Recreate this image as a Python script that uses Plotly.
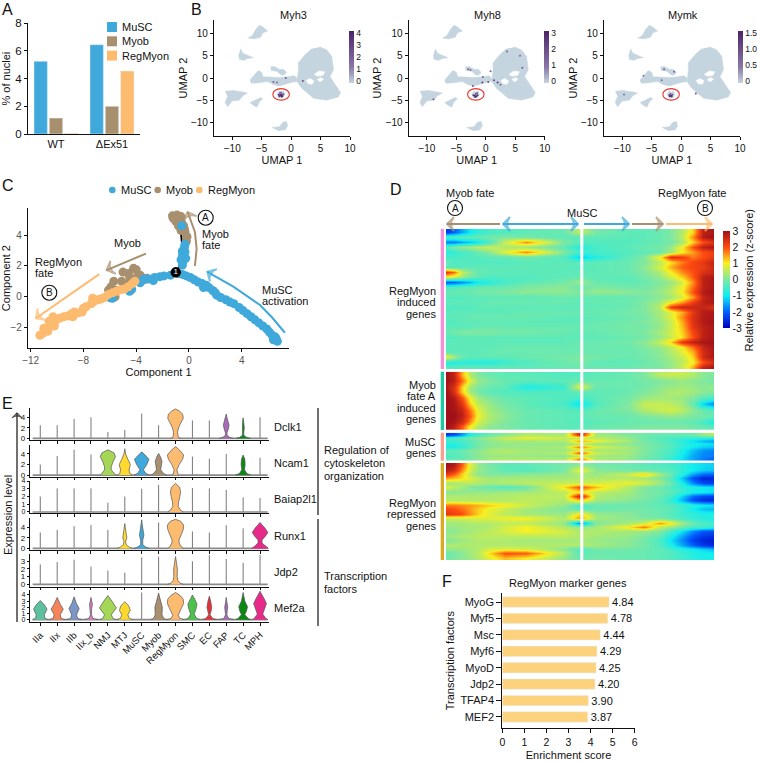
import plotly.graph_objects as go

W, H = 757, 762
FONT = "Liberation Sans"

MUSC_COLOR = "#3fa9db"
MYOB_COLOR = "#a88f6e"
REG_COLOR = "#fdbb6f"

# panel A
nuclei_groups = ["WT", "ΔEx51"]
nuclei_musc = [5.25, 6.45]
nuclei_myob = [1.15, 2.0]
nuclei_regmyon = [0.05, 4.55]

# panel B, cluster outlines in UMAP units
umap_big_x = [4.9, 6.0, 6.9, 7.2, 6.6, 7.5, 8.4, 8.0, 6.0, 3.8, 1.8, 1.0, 1.25, 1.2, 2.4, 3.5]
umap_big_y = [7.0, 6.4, 4.9, 1.9, 0.3, -1.5, -3.3, -4.3, -5.0, -4.6, -2.3, -0.8, 1.9, 3.4, 5.3, 6.6]
umap_mid_x = [-7, -6, -5.6, -5, -4.8, -3.5, -2, -0.5, 0.5, 1, 1.0, 0, -2, -3, -4, -5.5, -6.8]
umap_mid_y = [-0.5, 1, 1.7, 1.3, 0.3, 0.2, 0.1, 0.3, 0.5, 0, -0.8, -1.0, -1.8, -1.5, -0.8, -1.1, -1.2]
umap_up_x = [-3.5, -2.8, -2, -1.2, -0.8, -1.3, -1.8, -2.4, -3.4]
umap_up_y = [2.5, 2.6, 2, 1.9, 1.2, 0.6, 0.8, 1.5, 1.7]
umap_left_x = [-11.2, -9.8, -8, -7.4, -8.2, -8.8, -10, -10.8, -11.2, -10.8]
umap_left_y = [-3, -2.8, -3.2, -3.4, -4, -5, -5.2, -6.5, -5.5, -4.2]
umap_streak_x = [-7, -6, -5.2, -4.8, -5.4, -5.8, -6.4]
umap_streak_y = [-5.6, -4.9, -4.4, -4.7, -5.4, -6.6, -6.2]
umap_bottom_x = [-3.3, -2, -1.4, -0.8, -0.6, -1, -2.2]
umap_bottom_y = [-11.2, -11, -10, -9.8, -10.8, -11.7, -11.9]
umap_top_x = [-7.4, -6.6, -6, -5.4, -4.8, -4, -4.8, -5.2, -6.4]
umap_top_y = [9, 9.6, 11, 11.9, 11.5, 10.6, 10.2, 9.2, 8.8]
umap_small_x = [-8.6, -8.2, -7.2, -6.4, -7.4, -8, -8.8, -8.9]
umap_small_y = [6.6, 5.6, 5, 4.6, 4.4, 4, 4.2, 5.2]
umap_circled_x = [-2.4, -2, -1.7, -1.3, -1.1, -1.4, -2.2]
umap_circled_y = [-3.7, -2.9, -3.2, -2.9, -3.8, -4.4, -4.4]
umap_hole1_x = [2.5, 3.2, 3.9, 3.6, 2.9]
umap_hole1_y = [-0.6, -0.1, -0.7, -1.4, -1.3]
umap_hole2_x = [3.9, 4.8, 5.7, 5.4, 4.4]
umap_hole2_y = [0.8, 1.6, 1.4, 0.6, 0.4]
umap_hole3_x = [4.4, 5.0, 5.5, 4.9]
umap_hole3_y = [-0.4, 0.1, -0.3, -0.9]

myh3_x = [-2.1, -1.9, -1.8, -1.7, -1.6, -1.5, -1.4, -1.3, -2.0, -1.7, -1.6, -1.9, -3.0, -2.4, -0.9, 2.0]
myh3_y = [-3.8, -3.9, -3.6, -4.0, -3.8, -4.1, -3.8, -3.6, -4.1, -3.3, -4.2, -3.4, -0.9, -1.0, 0.0, -0.7]
myh3_val = [3.2, 3.8, 2.5, 4.0, 3.6, 3.4, 2.8, 1.8, 3.0, 2.0, 3.8, 1.5, 2.0, 1.5, 2.0, 2.5]
myh8_x = [-2.1, -1.9, -1.7, -1.6, -1.4, -1.8, -1.5, -3.0, -2.6, -2.2, -0.6, 0.8, 1.4, 2.0, 2.5, 3.6, 5.8, 6.2, -8.9, -0.5, 0.4]
myh8_y = [-3.9, -4.0, -3.6, -4.1, -3.9, -4.3, -3.4, 2.0, 1.8, -1.8, -1.0, 1.5, -0.5, -1.0, -1.5, 6.0, 5.0, 2.3, -4.8, 0.2, -0.9]
myh8_val = [2.5, 3.0, 2.0, 3.0, 2.6, 2.8, 1.6, 1.5, 1.2, 1.8, 2.2, 1.6, 2.0, 2.4, 1.2, 1.4, 1.2, 1.6, 1.5, 1.4, 1.8]
mymk_x = [-2.0, -1.9, -1.7, -1.5, -1.8, -1.6, -2.9, -1.2, -3.3, 2.5, -9.7, -6.4]
mymk_y = [-3.9, -4.1, -4.0, -3.8, -3.6, -4.2, 2.0, 1.4, -0.5, -3.5, -3.7, 0.5]
mymk_val = [1.2, 1.5, 1.4, 1.0, 0.8, 1.3, 0.8, 0.7, 0.6, 0.9, 0.6, 0.5]

# panel C
musc_x = [6.7, 6.6, 6.5, 6.3, 6.1, 5.9, 5.6, 5.3, 5.0, 4.7, 4.4, 4.1, 3.8, 3.4, 3.1, 2.8, 2.4, 2.1, 1.8, 1.5, 1.3, 1.0, 0.7,
          0.4, 0.1, -0.2, -0.5, -0.8, -1.4, -1.9, -2.2, -2.7, -3.1, -3.4, -2.6, -3.7, -4.34, -4.5, -5.8, -6.0, -5.9,
          -0.5, -0.45, -0.4, -0.48, -0.5, -0.35, -0.3, -0.45, -0.55, -0.25, -0.6, -0.3, 6.4, 2.0, 1.1]
musc_y = [-2.9, -2.7, -2.6, -2.5, -2.3, -2.1, -1.9, -1.7, -1.5, -1.3, -1.1, -0.9, -0.7, -0.45, -0.35, -0.2, -0.05, 0.1, 0.4, 0.6, 0.75, 0.85, 0.95,
          1.1, 1.25, 1.35, 1.45, 1.5, 1.4, 1.35, 1.3, 1.05, 1.15, 1.15, 1.25, 0.9, 0.48, 0.35, -0.1, -0.06, 0.05,
          2.05, 2.3, 2.6, 2.7, 2.95, 3.2, 3.4, 2.8, 4.6, 2.5, 2.4, 2.9, -2.8, 0.25, 0.6]
myob_x = [-1.2, -0.9, -0.6, -1.0, -0.7, -0.4, -0.3, -0.15, -0.2, -0.6, -0.95, -0.55, -0.35, -1.25, -0.8,
          -5.7, -5.9, -5.5, -6.1, -5.6, -5.0, -4.6, -4.2, -4.0, -3.7, -3.4, -3.2, -4.1, -4.6, -5.1, -4.5, -3.9]
myob_y = [5.1, 5.3, 5.2, 4.9, 4.9, 4.6, 4.2, 3.9, 3.6, 4.3, 5.0, 4.8, 4.4, 5.25, 4.6,
          1.0, 0.65, 0.4, 0.43, 0.0, 1.6, 1.5, 1.84, 1.75, 1.4, 1.1, 1.2, 1.1, 0.9, 1.0, 1.3, 1.3]
reg_x = [-11.3, -11.1, -10.9, -10.7, -10.5, -10.6, -10.2, -10.15, -10.4, -9.8, -9.5, -9.2, -8.9, -8.7, -8.4, -8.0, -7.8, -7.4,
         -7.2, -6.9, -6.7, -6.4, -6.1, -5.8, -5.5, -5.2, -4.9, -4.6, -4.3, -4.1, -11.0, -10.3, -8.8, -8.1, -7.3]
reg_y = [-2.5, -2.4, -2.2, -2.25, -1.85, -1.6, -1.9, -1.6, -1.5, -1.4, -1.3, -1.25, -1.1, -1.0, -1.05, -0.75, -0.65, -0.45,
         -0.3, -0.2, -0.15, -0.05, 0.15, 0.25, 0.35, 0.45, 0.5, 0.65, 0.85, 1.0, -2.05, -1.3, -1.3, -1.0, -0.1]
branch_x = [-1.0, -0.55, -0.5, -0.6]
branch_y = [1.58, 2.2, 3.2, 4.1]
node_x = [-1.0]
node_y = [1.58]
node_label = ["1"]
arrow_a_x = [0.45, 0.58, 0.45, -0.1]
arrow_a_y = [2.0, 3.1, 4.2, 5.5]
arrow_myob_x = [-3.26, -6.24]
arrow_myob_y = [2.8, 1.73]
arrow_reg_x = [-6.8, -11.6]
arrow_reg_y = [1.47, -1.4]
arrow_musc_x = [7.27, 6.3, 5.38, 3.36, 1.39]
arrow_musc_y = [-2.34, -1.35, -0.54, 0.65, 1.62]

# panel D
heat_x = [0, 3, 6, 9, 12, 16, 22, 30, 44, 49.5, 50.5, 56, 68, 74, 80, 84, 88, 92, 96, 100]
heat_regmyon_induced = [
    [-2.4, -2.0, -1.5, -1.0, -0.7, -0.5, -0.4, -0.3, -0.2, 0.5, 0.5, -0.1, -0.3, -0.3, -0.2, 0.0, 0.4, 1.2, 2.7, 2.9],
    [-0.4, -0.4, -0.3, -0.3, -0.2, -0.1, 0.0, -0.1, -0.3, -0.3, -0.3, -0.3, -0.3, -0.3, -0.2, 0.0, 0.5, 1.6, 2.8, 3.0],
    [-1.8, -1.8, -1.5, -1.3, -1.0, -0.5, 0.6, 1.6, 0.0, -0.3, -0.4, -0.4, -0.4, -0.3, -0.2, -0.1, 0.3, 1.2, 2.0, 2.4],
    [-0.3, 0.0, 0.2, 0.3, 0.5, 0.6, 0.4, 0.2, -0.3, -0.8, -0.8, -0.5, -0.3, -0.2, -0.1, 0.2, 1.0, 2.0, 2.7, 2.9],
    [-0.8, -0.7, -0.5, -0.4, -0.2, 0.1, 0.8, 1.6, 0.0, -0.5, -0.6, -0.5, -0.4, -0.3, -0.2, 0.3, 1.0, 1.5, 2.0, 2.2],
    [-0.5, -0.5, -0.4, -0.4, -0.4, -0.3, -0.3, -0.2, -0.4, -1.2, -1.3, -0.8, -0.3, 0.0, 1.0, 2.4, 2.2, 1.7, 2.0, 2.3],
    [-0.2, -0.4, -0.4, -0.4, -0.4, -0.4, -0.4, -0.3, -0.3, -0.3, -0.3, -0.3, -0.2, 0.0, 0.5, 1.1, 1.7, 2.1, 2.3, 2.7],
    [-0.4, -0.4, -0.3, -0.3, -0.3, -0.3, -0.3, -0.3, -0.3, -0.4, -0.4, -0.3, -0.2, 0.1, 0.7, 1.4, 1.9, 2.1, 2.2, 2.6],
    [2.3, 1.8, 0.6, 0.1, -0.2, -0.3, -0.3, -0.3, -0.3, -0.3, -0.3, -0.3, -0.2, 0.0, 0.4, 1.0, 1.6, 2.0, 2.4, 2.6],
    [0.9, 0.6, 0.2, -0.1, -0.3, -0.4, -0.4, -0.4, -0.3, -0.2, -0.2, -0.3, -0.3, -0.1, 0.2, 0.7, 1.2, 1.9, 2.7, 2.9],
    [-2.1, -2.0, -1.7, -1.4, -1.0, -0.8, -0.5, -0.3, -0.1, 0.2, 0.2, -0.2, -0.3, -0.2, 0.0, 0.2, 0.7, 1.6, 2.7, 2.9],
    [-0.5, -0.4, -0.3, -0.3, -0.2, -0.2, -0.2, 0.0, 0.1, -0.2, -0.2, 0.0, -0.1, -0.1, 0.1, 0.4, 0.9, 1.8, 2.7, 2.9],
    [-0.2, -0.2, -0.2, -0.2, -0.1, -0.1, 0.0, 0.1, 0.1, 0.0, 0.0, 0.2, 0.1, 0.0, 0.2, 0.5, 1.0, 2.0, 2.8, 3.0],
    [-0.4, -0.4, -0.4, -0.3, -0.3, -0.3, -0.3, -0.3, -0.2, -0.2, -0.2, -0.3, -0.2, -0.1, 0.1, 0.3, 0.7, 1.5, 2.6, 2.9],
    [-0.3, -0.3, -0.3, -0.3, -0.3, -0.2, -0.2, -0.2, -0.2, -0.3, -0.3, -0.2, -0.2, 0.0, 0.3, 0.9, 1.5, 2.2, 2.7, 2.9],
    [-0.4, -0.4, -0.4, -0.4, -0.3, -0.3, -0.3, -0.3, -0.3, -0.3, -0.3, -0.3, -0.2, 0.0, 0.5, 2.2, 2.6, 2.6, 2.6, 2.4],
    [-0.4, -0.3, -0.3, -0.3, -0.3, -0.3, -0.3, -0.2, -0.2, -0.2, -0.2, -0.2, -0.1, 0.0, 0.3, 0.8, 1.4, 2.3, 2.8, 2.9],
    [-0.3, -0.3, -0.3, -0.2, -0.2, -0.2, -0.2, -0.2, -0.3, -0.3, -0.3, -0.3, -0.2, -0.1, 0.3, 0.8, 1.6, 2.4, 2.8, 2.9],
    [-0.4, -0.4, -0.3, -0.3, -0.3, -0.3, -0.3, -0.3, -0.3, -0.3, -0.3, -0.2, -0.1, 0.0, 0.2, 0.6, 1.4, 2.4, 2.8, 3.0],
    [-0.3, -0.3, -0.3, -0.3, -0.2, -0.2, -0.2, -0.2, -0.2, -0.2, -0.2, -0.2, -0.1, -0.1, 0.2, 0.6, 1.3, 2.3, 2.7, 2.9],
    [-0.2, -0.1, 0.0, 0.0, 0.0, 0.0, -0.1, -0.1, -0.2, -0.3, -0.3, -0.2, -0.1, 0.0, 0.3, 0.7, 1.2, 2.1, 2.7, 2.9],
    [-0.4, -0.4, -0.3, -0.3, -0.3, -0.3, -0.3, -0.3, -0.3, -0.3, -0.3, -0.3, -0.2, -0.1, 0.2, 0.6, 1.1, 2.0, 2.7, 2.9],
    [-0.3, -0.3, -0.3, -0.3, -0.3, -0.3, -0.3, -0.3, -0.3, -0.2, -0.2, -0.2, -0.1, 0.1, 0.6, 1.2, 2.3, 2.7, 2.9, 3.0],
    [-0.4, -0.3, -0.3, -0.3, -0.3, -0.3, -0.2, -0.2, -0.2, -0.2, -0.2, -0.2, -0.2, 0.0, 0.2, 0.5, 1.0, 1.8, 2.6, 2.9],
    [-0.3, -0.3, -0.3, -0.3, -0.3, -0.2, -0.2, -0.2, -0.2, -0.2, -0.2, -0.2, -0.2, -0.1, 0.1, 0.4, 0.8, 1.4, 2.5, 2.9],
    [0.9, 0.3, -0.2, -0.3, -0.3, -0.3, -0.3, -0.2, -0.1, 0.0, 0.0, -0.1, -0.2, -0.1, 0.1, 0.3, 0.6, 1.2, 2.5, 2.9],
    [-0.8, -0.8, -0.8, -0.8, -0.8, -0.8, -0.6, -0.4, -0.2, -0.1, -0.1, -0.3, -0.3, -0.2, 0.0, 0.2, 0.5, 1.0, 2.0, 2.5],
    [-0.4, -0.4, -0.3, -0.3, -0.3, -0.3, -0.3, -0.3, -0.2, -0.2, -0.2, -0.2, -0.2, -0.1, 0.0, 0.2, 0.6, 1.4, 2.6, 2.9],
]
heat_myob_induced = [
    [3.0, 2.6, 1.4, 0.4, 0.0, -0.2, -0.3, -0.3, -0.4, -0.4, -0.4, -0.3, -0.2, 0.0, 0.5, 0.6, 0.6, 0.4, 0.1, 0.0],
    [3.0, 2.7, 1.8, 0.8, 0.2, 0.0, -0.2, -0.3, -0.3, -0.2, -0.2, -0.2, -0.2, -0.1, 0.0, 0.1, 0.2, 0.1, 0.0, -0.1],
    [2.9, 2.4, 1.2, 0.3, 0.0, -0.2, -0.3, -0.9, -0.6, 0.8, 0.8, -0.2, -0.2, -0.1, 0.1, 0.2, 0.3, 0.2, 0.1, 0.2],
    [3.0, 2.4, 1.2, 0.3, -0.1, -0.3, -0.4, -0.4, -0.4, -0.3, -0.3, -0.3, -0.2, 0.0, 0.2, 0.4, 0.4, 0.3, 0.1, 0.0],
    [3.0, 2.8, 2.0, 0.9, 0.3, 0.0, -0.2, -0.3, -0.4, -0.5, -0.5, -0.3, -0.1, 0.2, 0.3, 0.3, 0.2, 0.0, -0.3, -0.5],
    [3.0, 2.9, 2.3, 1.2, 0.5, 0.2, -0.1, -0.3, -0.5, -1.1, -1.1, -0.4, 0.0, 0.6, 0.6, 0.5, 0.3, -0.2, -1.2, -1.8],
    [3.0, 2.9, 2.6, 1.7, 0.8, 0.3, 0.0, -0.2, -0.3, -0.4, -0.4, -0.2, 0.0, 0.4, 0.6, 0.7, 0.5, 0.1, -0.2, -0.4],
    [3.0, 3.0, 2.7, 1.9, 0.9, 0.4, 0.1, -0.2, -0.3, -0.3, -0.3, -0.2, -0.2, 0.0, 0.1, 0.2, 0.1, 0.0, -0.1, -0.2],
    [3.0, 2.9, 2.5, 1.6, 0.7, 0.3, 0.0, -0.2, -0.3, -0.4, -0.4, -0.3, -0.2, -0.2, -0.2, -0.2, -0.2, -0.3, -0.5, -0.9],
    [3.0, 2.7, 1.9, 0.9, 0.4, 0.1, 0.0, -0.2, -0.3, -0.3, -0.3, -0.2, -0.1, 0.0, 0.0, 0.0, 0.0, -0.1, -0.2, -0.3],
]
heat_musc = [
    [-2.4, -2.2, -1.6, -0.9, -0.5, -0.2, 0.1, 0.4, 0.3, 2.5, 2.5, 0.3, 0.0, -0.1, -0.2, -0.2, -0.2, -0.1, 0.2, 0.5],
    [-0.5, -0.4, -0.3, -0.1, 0.1, 0.3, 0.6, 0.9, 0.6, 0.4, 0.4, 0.5, 0.2, -0.2, -0.4, -0.5, -0.6, -0.7, -0.7, -0.8],
    [-0.6, -0.6, -0.5, -0.3, -0.1, 0.1, 0.3, 0.3, 0.4, 1.5, 1.5, 0.9, 0.3, -0.1, -0.3, -0.5, -0.8, -1.1, -1.4, -1.6],
    [-0.8, -0.8, -0.6, -0.4, -0.1, 0.1, 0.2, 0.2, 0.1, 0.3, 0.3, 0.2, 0.1, 0.0, -0.2, -0.4, -0.7, -0.9, -1.0, -1.1],
    [-0.9, -0.9, -0.7, -0.4, -0.1, 0.1, 0.2, 0.2, 0.4, 1.8, 1.8, 0.8, 0.3, 0.0, -0.2, -0.4, -0.7, -1.0, -1.2, -1.3],
    [-0.3, -0.3, -0.2, 0.0, 0.1, 0.3, 0.4, 0.3, 0.2, 0.5, 0.5, 0.3, 0.3, 0.0, -0.3, -0.5, -0.9, -1.3, -1.6, -1.7],
    [-0.3, -0.3, -0.2, 0.0, 0.1, 0.3, 0.4, 0.3, 0.4, 2.0, 2.0, 0.6, 0.3, 0.0, -0.3, -0.5, -0.9, -1.4, -1.7, -1.8],
    [-0.5, -0.4, -0.3, -0.1, 0.1, 0.2, 0.2, 0.2, 0.1, 0.4, 0.4, 0.3, 0.2, -0.1, -0.3, -0.6, -1.0, -1.5, -1.7, -1.8],
    [-0.3, -0.2, -0.2, 0.0, 0.1, 0.3, 0.4, 0.4, 0.4, 1.7, 1.7, 0.4, 0.2, -0.1, -0.4, -0.7, -1.1, -1.5, -1.8, -2.0],
]
heat_regmyon_repressed = [
    [3.0, 2.8, 1.9, 0.8, 0.2, -0.1, -0.3, -0.3, -0.1, 0.1, 0.1, -0.1, -0.2, -0.3, -0.4, -0.5, -0.7, -1.0, -1.1, -1.2],
    [2.8, 2.5, 1.6, 0.7, 0.2, 0.0, -0.3, -0.4, -0.1, 0.9, 0.9, 0.1, -0.1, -0.2, -0.3, -0.4, -0.7, -1.0, -1.2, -1.3],
    [2.3, 1.9, 1.2, 0.5, 0.1, 0.0, 0.0, 0.1, 0.2, 0.3, 0.3, 0.2, 0.6, 1.2, 0.3, -0.2, -0.8, -1.5, -1.9, -2.0],
    [1.5, 1.3, 1.1, 0.8, 0.5, 0.3, 0.3, 0.3, 0.3, 0.4, 0.4, 0.4, 0.4, 0.3, 0.0, -0.4, -1.3, -2.2, -2.6, -2.6],
    [0.3, 0.3, 0.4, 0.5, 0.4, 0.3, 0.4, 0.5, 0.6, 0.6, 0.6, 0.7, 0.9, 0.7, 0.3, -0.2, -0.9, -1.7, -2.2, -2.3],
    [0.7, 0.5, 0.3, 0.0, -0.1, -0.2, -0.4, -0.2, 1.1, 2.0, 2.0, 1.3, 0.4, 0.0, -0.2, -0.4, -0.7, -0.9, -1.0, -1.1],
    [0.1, 0.1, 0.1, 0.2, 0.2, 0.2, 0.3, 0.3, 0.5, 1.0, 1.0, 0.5, 0.3, 0.0, -0.1, -0.3, -0.6, -0.9, -1.0, -1.1],
    [0.4, 0.4, 0.4, 0.4, 0.4, 0.4, 0.4, 0.5, 0.5, 2.6, 2.6, 0.4, 0.2, 0.0, -0.2, -0.5, -1.2, -1.9, -2.2, -2.3],
    [0.4, 0.4, 0.4, 0.4, 0.4, 0.4, 0.4, 0.5, 0.4, 1.2, 1.2, 0.3, 0.1, -0.1, -0.3, -0.7, -1.4, -2.2, -2.5, -2.6],
    [1.7, 1.7, 1.6, 1.5, 1.4, 1.2, 1.0, 0.6, 0.2, -0.5, -0.5, -0.2, -0.2, -0.2, -0.3, -0.4, -0.6, -0.8, -1.0, -1.1],
    [2.1, 2.0, 1.8, 1.5, 1.2, 0.9, 0.6, 0.3, 0.0, -0.3, -0.3, -0.2, -0.1, -0.1, -0.2, -0.3, -0.6, -1.0, -1.3, -1.4],
    [2.3, 2.2, 2.0, 1.6, 1.2, 0.8, 0.5, 0.3, 0.2, 1.1, 1.1, 0.2, 0.1, -0.1, -0.2, -0.4, -0.6, -0.7, -0.8, -0.8],
    [0.6, 0.6, 0.7, 0.7, 0.8, 0.8, 0.9, 1.0, 0.4, 1.5, 1.5, 0.3, 0.1, 0.0, -0.1, -0.3, -0.5, -0.7, -0.8, -0.9],
    [0.3, 0.3, 0.3, 0.4, 0.4, 0.4, 0.5, 0.5, 0.2, -1.7, -1.7, 0.0, 0.3, 0.6, 1.5, 1.0, 0.3, -0.2, -0.4, -0.5],
    [0.2, 0.2, 0.3, 0.3, 0.3, 0.4, 0.7, 1.0, 0.4, 0.2, 0.2, 0.3, 1.0, 1.7, 0.5, 0.2, -0.2, -0.5, -0.6, -0.7],
    [0.1, 0.1, 0.2, 0.3, 0.4, 0.5, 0.7, 1.0, 0.7, 0.4, 0.4, 0.4, 0.3, 0.2, 0.0, -0.5, -1.1, -1.7, -2.1, -2.2],
    [0.3, 0.3, 0.4, 0.4, 0.5, 0.5, 0.5, 0.5, 0.5, 0.4, 0.4, 0.3, 0.2, 0.0, -0.3, -0.9, -1.5, -2.1, -2.4, -2.5],
    [0.0, 0.1, 0.2, 0.3, 0.4, 0.4, 0.4, 0.3, 0.3, 0.3, 0.3, 0.2, 0.1, -0.1, -0.5, -1.1, -1.7, -2.3, -2.6, -2.7],
    [0.4, 0.4, 0.4, 0.4, 0.4, 0.4, 0.4, 0.4, 0.4, 0.4, 0.4, 0.3, 0.1, -0.1, -0.4, -0.9, -1.5, -2.0, -2.4, -2.6],
    [0.2, 0.2, 0.2, 0.3, 0.4, 0.7, 0.8, 0.7, 0.1, -0.4, -0.4, -0.1, -0.1, -0.2, -0.3, -0.5, -0.8, -1.0, -1.2, -1.4],
    [-0.2, -0.1, 0.1, 0.3, 0.5, 1.1, 2.0, 1.9, 0.4, -0.3, -0.3, -0.2, -0.2, -0.2, -0.3, -0.4, -0.6, -0.8, -0.9, -1.0],
    [-0.1, 0.0, 0.1, 0.2, 0.4, 0.8, 1.3, 1.0, 0.2, -0.2, -0.2, -0.1, -0.2, -0.2, -0.3, -0.4, -0.6, -0.8, -0.9, -0.9],
]
heat_ticks = [-3, -2, -1, 0, 1, 2, 3]
heat_tick_labels = ["-3", "-2", "-1", "0", "1", "2", "3"]

# panel E
cell_types = ["IIa", "IIx", "IIb", "IIx_b", "NMJ", "MTJ", "MuSC", "Myob", "RegMyon", "SMC", "EC", "FAP", "TC", "MPH"]
cell_colors = ["#5dc1a0", "#f5845a", "#7d96c8", "#d77dc0", "#a5d656", "#ffd92f", MUSC_COLOR, MYOB_COLOR, REG_COLOR,
               "#4cc24c", "#e8303a", "#a86cb8", "#0a8a12", "#e7298a"]
genes = ["Dclk1", "Ncam1", "Baiap2l1", "Runx1", "Jdp2", "Mef2a"]
spike_dclk1 = [2.5, 2.5, 3.7, 4.0, 1.2, 1.6, 4.7, 2.5, 0, 3.4, 3.4, 0, 0, 4.0]
spike_ncam1 = [2.0, 3.6, 4.8, 3.9, 0, 0, 0, 0, 0, 3.5, 3.1, 4.0, 0, 3.3]
spike_baiap2l1 = [2.0, 3.05, 3.05, 3.05, 1.2, 2.0, 3.0, 3.5, 0, 3.1, 3.05, 2.85, 1.9, 1.8]
spike_runx1 = [3.0, 3.5, 4.2, 4.4, 3.5, 0, 0, 4.9, 0, 3.2, 3.0, 4.4, 3.8, 0]
spike_jdp2 = [2.6, 2.9, 3.2, 2.3, 1.8, 1.5, 3.5, 3.6, 0, 3.0, 3.8, 3.3, 2.8, 3.8]
spike_mef2a = [0, 0, 0, 0, 0, 0, 4.4, 0, 0, 0, 0, 0, 0, 0]

violin_dclk1 = {
    "RegMyon": ([0, 0.2, 0.6, 1.2, 2, 3, 3.8, 4.6, 5.2, 5.6], [0.28, 0.16, 0.13, 0.12, 0.18, 0.32, 0.46, 0.42, 0.22, 0]),
    "FAP": ([0, 0.2, 0.6, 1, 1.8, 2.5, 3.2, 4, 4.6], [0.42, 0.2, 0.05, 0.04, 0.12, 0.17, 0.12, 0.04, 0]),
    "TC": ([0, 0.2, 0.6, 1.2, 2, 3, 3.9], [0.45, 0.2, 0.04, 0.04, 0.07, 0.04, 0]),
}
violin_ncam1 = {
    "NMJ": ([0, 0.3, 1, 1.6, 2.5, 3.5, 4.2, 4.8], [0.46, 0.36, 0.2, 0.2, 0.3, 0.45, 0.36, 0]),
    "MTJ": ([0, 0.3, 1, 2, 3, 4, 5], [0.45, 0.3, 0.25, 0.33, 0.18, 0.05, 0]),
    "MuSC": ([0, 0.3, 1, 2, 3, 3.8, 4.4], [0.46, 0.25, 0.1, 0.3, 0.43, 0.2, 0]),
    "Myob": ([0, 0.3, 1, 1.8, 2.6, 3.4, 4.1], [0.46, 0.3, 0.12, 0.16, 0.2, 0.12, 0]),
    "RegMyon": ([0, 0.3, 1, 2, 3, 3.8, 4.6, 5.4], [0.16, 0.14, 0.08, 0.22, 0.42, 0.48, 0.28, 0]),
    "TC": ([0, 0.3, 1, 2, 3, 3.8], [0.46, 0.22, 0.08, 0.12, 0.1, 0]),
}
violin_baiap2l1 = {
    "RegMyon": ([0, 0.2, 0.7, 1.3, 2, 2.6, 3.2, 3.7], [0.46, 0.32, 0.16, 0.18, 0.26, 0.3, 0.24, 0]),
}
violin_runx1 = {
    "MTJ": ([0, 0.2, 0.7, 1.3, 2, 3, 4, 4.7], [0.45, 0.28, 0.08, 0.05, 0.12, 0.08, 0.03, 0]),
    "MuSC": ([0, 0.2, 0.7, 1.5, 2.5, 3.5, 4.5, 5.4], [0.46, 0.26, 0.06, 0.06, 0.13, 0.08, 0.03, 0]),
    "RegMyon": ([0, 0.3, 1, 1.6, 2.6, 3.6, 4.4, 5.1, 5.5], [0.46, 0.34, 0.22, 0.2, 0.34, 0.46, 0.48, 0.32, 0]),
    "MPH": ([0, 0.3, 1, 1.6, 2.4, 3, 3.8, 4.9], [0.5, 0.36, 0.12, 0.12, 0.34, 0.46, 0.3, 0]),
}
violin_jdp2 = {
    "RegMyon": ([0, 0.15, 0.5, 1, 2, 2.8, 3.6], [0.46, 0.28, 0.14, 0.1, 0.11, 0.06, 0]),
}
violin_mef2a = {
    "IIa": ([0, 0.2, 0.8, 1.7, 2.4, 3.1], [0.46, 0.28, 0.24, 0.4, 0.24, 0]),
    "IIx": ([0, 0.2, 0.8, 1.7, 2.5, 3.6], [0.46, 0.24, 0.18, 0.36, 0.18, 0]),
    "IIb": ([0, 0.2, 0.8, 1.8, 2.6, 3.7], [0.46, 0.2, 0.15, 0.3, 0.14, 0]),
    "IIx_b": ([0, 0.2, 0.8, 1.8, 2.5, 3, 3.6], [0.4, 0.12, 0.03, 0.04, 0.09, 0.04, 0]),
    "NMJ": ([0, 0.2, 0.8, 1.9, 3, 3.9], [0.46, 0.3, 0.2, 0.5, 0.24, 0]),
    "MTJ": ([0, 0.2, 0.8, 1.5, 2.2, 2.9], [0.46, 0.26, 0.18, 0.32, 0.24, 0]),
    "Myob": ([0, 0.2, 0.8, 2, 3, 4.3], [0.46, 0.3, 0.2, 0.22, 0.12, 0]),
    "RegMyon": ([0, 0.2, 0.7, 1.6, 2.6, 3.3, 3.9, 4.4], [0.5, 0.26, 0.16, 0.3, 0.48, 0.46, 0.28, 0]),
    "SMC": ([0, 0.2, 0.9, 1.6, 2.5, 3.3, 4], [0.46, 0.26, 0.1, 0.2, 0.27, 0.14, 0]),
    "EC": ([0, 0.2, 0.8, 1.3, 2, 3, 3.8], [0.46, 0.2, 0.04, 0.1, 0.14, 0.08, 0]),
    "FAP": ([0, 0.2, 0.8, 1.5, 2, 2.8, 3.6], [0.46, 0.14, 0.04, 0.06, 0.09, 0.04, 0]),
    "TC": ([0, 0.2, 0.8, 1.4, 2.1, 3, 4.4], [0.46, 0.3, 0.1, 0.2, 0.26, 0.1, 0]),
    "MPH": ([0, 0.2, 0.9, 1.7, 2.6, 3.4, 4.6], [0.46, 0.34, 0.16, 0.26, 0.38, 0.24, 0]),
}
row_spikes = [spike_dclk1, spike_ncam1, spike_baiap2l1, spike_runx1, spike_jdp2, spike_mef2a]
row_violins = [violin_dclk1, violin_ncam1, violin_baiap2l1, violin_runx1, violin_jdp2, violin_mef2a]
row_ranges = [[-0.3, 5.7], [-0.3, 5.7], [-0.17, 4.0], [-0.3, 5.8], [-0.3, 3.9], [-0.43, 4.8]]
row_ticks = [[0, 2, 4], [0, 2, 4], [0, 1, 2, 3, 4], [0, 2, 4], [0, 1, 2, 3, 4], [0, 1, 2, 3, 4]]
row_tops = [408.3, 445, 481, 517.7, 554.3, 590]
row_bottoms = [440, 476.7, 513.3, 550, 586.7, 622.3]

# panel F
tf_names = ["MyoG", "Myf5", "Msc", "Myf6", "MyoD", "Jdp2", "TFAP4", "MEF2"]
tf_scores = [4.84, 4.78, 4.44, 4.29, 4.25, 4.20, 3.90, 3.87]

axis_style = dict(showline=True, linecolor="#111", linewidth=1.2, showgrid=False, zeroline=False,
                  ticks="outside", ticklen=3, tickwidth=1, tickcolor="#111")
hidden = dict(visible=False, showgrid=False, zeroline=False)

# autoexpand off: colorbars near the page edge must not shrink the plot area
layout = dict(width=W, height=H, autosize=False, margin=dict(l=0, r=0, t=0, b=0, autoexpand=False),
              paper_bgcolor="white", plot_bgcolor="rgba(0,0,0,0)", showlegend=False,
              font=dict(family=FONT, color="#111"), annotations=[], shapes=[])
fig = go.Figure()


def add_axes(n, left, top, right, bottom, xcfg, ycfg):
    layout[f"xaxis{n}"] = dict(domain=[left / W, right / W], anchor=f"y{n}", **xcfg)
    layout[f"yaxis{n}"] = dict(domain=[1 - bottom / H, 1 - top / H], anchor=f"x{n}", **ycfg)


def text(x, y, s, size=11, anchor="center", angle=0, color="#111"):
    layout["annotations"].append(dict(x=x, y=y, xref="x18", yref="y18", text=s, showarrow=False,
                                      xanchor=anchor, yanchor="middle", textangle=angle,
                                      font=dict(size=size, color=color)))


def lines(rows, x, y0, dy, anchor="left", size=11):
    for i, row in enumerate(rows):
        text(x, y0 + i * dy, row, size=size, anchor=anchor)


def rect(x0, y0, x1, y1, color):
    layout["shapes"].append(dict(type="rect", xref="paper", yref="paper", x0=x0 / W, x1=x1 / W, y0=1 - y0 / H,
                                 y1=1 - y1 / H, fillcolor=color, line_width=0))


def vline(x, y0, y1, color="#111", width=1.2):
    layout["shapes"].append(dict(type="line", xref="paper", yref="paper", x0=x / W, x1=x / W, y0=1 - y0 / H,
                                 y1=1 - y1 / H, line=dict(color=color, width=width)))


def ring(cx, cy, r, letter):
    layout["shapes"].append(dict(type="circle", xref="paper", yref="paper", x0=(cx - r) / W, x1=(cx + r) / W,
                                 y0=1 - (cy - r) / H, y1=1 - (cy + r) / H, line=dict(color="#111", width=1.1)))
    text(cx, cy, letter, size=10)


def dot(cx, cy, r, color):
    layout["shapes"].append(dict(type="circle", xref="paper", yref="paper", x0=(cx - r) / W, x1=(cx + r) / W,
                                 y0=1 - (cy - r) / H, y1=1 - (cy + r) / H, fillcolor=color, line_width=0))


def arrow(xs, ys, color, xa, ya, width=2.0, size=10):
    sizes = [0] * (len(xs) - 1) + [size]
    fig.add_trace(go.Scatter(x=xs, y=ys, xaxis=xa, yaxis=ya, mode="lines+markers", hoverinfo="skip",
                             line=dict(color=color, width=width),
                             marker=dict(symbol="arrow-wide-open", angleref="previous", size=sizes, color=color,
                                         line=dict(color=color, width=width))))


# panel A
add_axes(2, 28, 23.3, 140, 134,
         dict(axis_style, type="category", ticks="", tickfont=dict(size=11), range=[-0.5, 1.5]),
         dict(axis_style, range=[0, 8], tickvals=[0, 2, 4, 6, 8], tickfont=dict(size=11.5),
              title=dict(text="% of nuclei", font=dict(size=11), standoff=3)))
for name, vals, col in [("MuSC", nuclei_musc, MUSC_COLOR), ("Myob", nuclei_myob, MYOB_COLOR),
                        ("RegMyon", nuclei_regmyon, REG_COLOR)]:
    fig.add_trace(go.Bar(x=nuclei_groups, y=vals, name=name, marker_color=col, xaxis="x2", yaxis="y2"))
for i, (name, col) in enumerate([("MuSC", MUSC_COLOR), ("Myob", MYOB_COLOR), ("RegMyon", REG_COLOR)]):
    rect(107, 22 + i * 14.3, 117, 32 + i * 14.3, col)
    text(120, 27 + i * 14.3, name, anchor="left")

# panel B
umap_blobs = [(umap_big_x, umap_big_y, "#c5d5e0"), (umap_mid_x, umap_mid_y, "#c5d5e0"), (umap_up_x, umap_up_y, "#c5d5e0"),
              (umap_left_x, umap_left_y, "#c5d5e0"), (umap_streak_x, umap_streak_y, "#c5d5e0"),
              (umap_bottom_x, umap_bottom_y, "#c5d5e0"), (umap_top_x, umap_top_y, "#c5d5e0"),
              (umap_small_x, umap_small_y, "#c5d5e0"), (umap_circled_x, umap_circled_y, "#c5d5e0"),
              (umap_hole1_x, umap_hole1_y, "white"), (umap_hole2_x, umap_hole2_y, "white"),
              (umap_hole3_x, umap_hole3_y, "white")]
purples = [[0, "#c5d5e0"], [0.3, "#8a78a8"], [1, "#4a2468"]]
umap_panels = [
    (3, 214, "Myh3", myh3_x, myh3_y, myh3_val, 4.0, [0, 1, 2, 3, 4], 349),
    (4, 408.7, "Myh8", myh8_x, myh8_y, myh8_val, 3.0, [0, 1, 2, 3], 543.5),
    (5, 604, "Mymk", mymk_x, mymk_y, mymk_val, 1.5, [0, 0.5, 1.0, 1.5], 738),
]
for n, left, gene, px, py, pv, vmax, cticks, bar_x in umap_panels:
    add_axes(n, left, 20, left + 136, 136,
             dict(axis_style, range=[-13.1, 10], tickvals=[-10, -5, 0, 5, 10], tickfont=dict(size=10), ticklen=3,
                  title=dict(text="UMAP 1", font=dict(size=11), standoff=3)),
             dict(axis_style, range=[-13.1, 13.1], tickvals=[-10, -5, 0, 5, 10], tickfont=dict(size=10), ticklen=3,
                  title=dict(text="UMAP 2", font=dict(size=11), standoff=1)))
    for bx, by, col in umap_blobs:
        fig.add_trace(go.Scatter(x=bx, y=by, xaxis=f"x{n}", yaxis=f"y{n}", mode="lines", fill="toself", fillcolor=col,
                                 line=dict(color=col, width=0.5), hoverinfo="skip"))
    pad = vmax * 0.04
    fig.add_trace(go.Scatter(x=px, y=py, xaxis=f"x{n}", yaxis=f"y{n}", mode="markers",
                             marker=dict(size=2, color=pv, cmin=-pad, cmax=vmax + pad, colorscale=purples,
                                         colorbar=dict(x=bar_x / W, xanchor="left", y=1 - 31 / H, yanchor="top",
                                                       len=52 / H, lenmode="fraction", thickness=5, outlinewidth=0,
                                                       tickvals=cticks, ticks="", xpad=0, ypad=0,
                                                       ticktext=[str(t) for t in cticks],
                                                       tickfont=dict(size=8.5)))))
    layout["shapes"].append(dict(type="circle", xref=f"x{n}", yref=f"y{n}", x0=-3.1, x1=-0.3, y0=-5.0, y1=-2.4,
                                 line=dict(color="#e8352e", width=1.1)))
    text(left + 79, 15, gene, size=11)

# panel C
add_axes(6, 28, 208, 289, 348.3,
         dict(axis_style, range=[-12.2, 7.58], tickvals=[-12, -8, -4, 0, 4], tickfont=dict(size=10, color="#555"),
              title=dict(text="Component 1", font=dict(size=11), standoff=1)),
         dict(axis_style, range=[-3.35, 5.76], tickvals=[-2, 0, 2, 4], tickfont=dict(size=10, color="#555"),
              title=dict(text="Component 2", font=dict(size=11), standoff=3)))
fig.add_trace(go.Scatter(x=branch_x, y=branch_y, xaxis="x6", yaxis="y6", mode="lines",
                         line=dict(color="black", width=2), hoverinfo="skip"))
fig.add_trace(go.Scatter(x=myob_x, y=myob_y, xaxis="x6", yaxis="y6", mode="markers",
                         marker=dict(size=9, color=MYOB_COLOR)))
fig.add_trace(go.Scatter(x=musc_x, y=musc_y, xaxis="x6", yaxis="y6", mode="markers",
                         marker=dict(size=9, color=MUSC_COLOR)))
fig.add_trace(go.Scatter(x=reg_x, y=reg_y, xaxis="x6", yaxis="y6", mode="markers",
                         marker=dict(size=9, color=REG_COLOR)))
fig.add_trace(go.Scatter(x=node_x, y=node_y, xaxis="x6", yaxis="y6", mode="markers+text", text=node_label,
                         textposition="middle center", textfont=dict(size=8, color="white", family=FONT + ", sans-serif"),
                         marker=dict(size=10.5, color="black")))
arrow(arrow_a_x, arrow_a_y, MYOB_COLOR, "x6", "y6")
arrow(arrow_myob_x, arrow_myob_y, MYOB_COLOR, "x6", "y6")
arrow(arrow_reg_x, arrow_reg_y, REG_COLOR, "x6", "y6")
arrow(arrow_musc_x, arrow_musc_y, MUSC_COLOR, "x6", "y6")
for cx, tx, name, col in [(112.3, 119, "MuSC", MUSC_COLOR), (157.7, 164, "Myob", MYOB_COLOR),
                          (199.3, 206, "RegMyon", REG_COLOR)]:
    dot(cx, 190, 3.3, col)
    text(tx, 190, name, anchor="left")
lines(["Myob", "fate"], 200, 233.5, 11.5)
text(127, 243, "Myob")
lines(["RegMyon", "fate"], 33, 261.5, 11.8)
lines(["MuSC", "activation"], 260, 289.5, 11.8)
ring(205.7, 217.7, 7.5, "A")
ring(49.3, 292.7, 7.5, "B")

# panel D
jet = [[0, "#0000c0"], [1 / 6, "#0060ff"], [1 / 3, "#10eef0"], [0.5, "#80e8a0"], [2 / 3, "#f8f020"],
       [5 / 6, "#ff4a10"], [1, "#a01018"]]
layout["coloraxis"] = dict(cmin=-3, cmax=3, colorscale=jet,
                           colorbar=dict(x=723 / W, xanchor="left", y=1 - 231 / H, yanchor="top", len=96.7 / H,
                                         thickness=7, outlinewidth=0, ticks="", tickvals=heat_ticks,
                                         ticktext=heat_tick_labels, xpad=0, ypad=0, tickfont=dict(size=10.5)))
text(748.5, 281, "Relative expression (z-score)", angle=-90)
heat_blocks = [
    (7, heat_regmyon_induced, 229, 369, "#f48fd8"),
    (8, heat_myob_induced, 371.7, 430, "#1fc9a0"),
    (9, heat_musc, 432.7, 460.7, "#f8a090"),
    (10, heat_regmyon_repressed, 463, 560, "#dcaa20"),
]
for n, z, top, bottom, col in heat_blocks:
    add_axes(n, 446, top, 714, bottom, dict(hidden, range=[0, 100]),
             dict(hidden, range=[len(z) - 0.5, -0.5]))
    fig.add_trace(go.Heatmap(x=heat_x, y=list(range(len(z))), z=z, coloraxis="coloraxis", zsmooth="best",
                             xaxis=f"x{n}", yaxis=f"y{n}", hoverinfo="skip"))
    rect(440.7, top, 444, bottom, col)
rect(580.3, 229, 583.3, 560, "white")
text(470, 193, "Myob fate")
text(692, 193, "RegMyon fate")
text(582, 213, "MuSC")
ring(455, 208, 7.5, "A")
ring(705, 208, 7.5, "B")
lines(["RegMyon", "induced", "genes"], 437.5, 291, 11.3, anchor="right")
lines(["Myob", "fate A", "induced", "genes"], 437.5, 385, 11.3, anchor="right")
lines(["MuSC", "genes"], 437.5, 441.5, 11.3, anchor="right")
lines(["RegMyon", "repressed", "genes"], 437.5, 503, 11.3, anchor="right")

# panel E
for r in range(6):
    n = 11 + r
    add_axes(n, 30.3, row_tops[r], 269, row_bottoms[r],
             dict(axis_style, range=[-0.59, 13.53], tickvals=list(range(14)), ticktext=cell_types, ticklen=2.5,
                  tickangle=-45, tickfont=dict(size=9.5), showticklabels=r == 5),
             dict(axis_style, range=row_ranges[r], tickvals=row_ticks[r], ticklen=2.5,
                  tickfont=dict(size=7 if r in (2, 5) else 8)))
    xa, ya = f"x{n}", f"y{n}"
    sx, sy = [], []
    for i, top in enumerate(row_spikes[r]):
        if top > 0:
            sx += [i, i, None]
            sy += [0, top, None]
    fig.add_trace(go.Scatter(x=sx, y=sy, xaxis=xa, yaxis=ya, mode="lines", line=dict(color="#777", width=1),
                             hoverinfo="skip"))
    fig.add_trace(go.Scatter(x=[-0.45, 13.45], y=[0, 0], xaxis=xa, yaxis=ya, mode="lines",
                             line=dict(color="#8a8a8a", width=1.6), hoverinfo="skip"))
    for cell, (levels, widths) in row_violins[r].items():
        i = cell_types.index(cell)
        vx = [i - w for w in widths] + [i + w for w in reversed(widths)]
        vy = levels + levels[::-1]
        fig.add_trace(go.Scatter(x=vx, y=vy, xaxis=xa, yaxis=ya, mode="lines", fill="toself",
                                 fillcolor=cell_colors[i], line=dict(color="#555", width=0.7), hoverinfo="skip"))
    text(272, [427, 463, 499, 535.7, 572, 607.7][r], genes[r], anchor="left")
text(8, 515, "Expression level", angle=-90)
vline(318, 408, 515)
vline(318, 519, 626)
lines(["Regulation of", "cytoskeleton", "organization"], 322, 450, 13.2)
lines(["Transcription", "factors"], 322, 575.7, 13.2)

# panel F
add_axes(17, 502.3, 593, 634.7, 728.3,
         dict(axis_style, range=[0, 6], tickvals=list(range(7)), tickfont=dict(size=10.5), ticklen=4,
              title=dict(text="Enrichment score", font=dict(size=11), standoff=4)),
         dict(axis_style, type="category", range=[7.69, -0.55], tickfont=dict(size=11), ticklen=5,
              title=dict(text="Transcription factors", font=dict(size=11), standoff=3)))
fig.add_trace(go.Bar(x=tf_scores, y=tf_names, orientation="h", xaxis="x17", yaxis="y17", width=0.63,
                     marker_color="#fdd27c", text=tf_scores, texttemplate="%{x:.2f}", textposition="outside",
                     constraintext="none", textfont=dict(size=11), cliponaxis=False))
text(568, 582.7, "RegMyon marker genes", size=11)

# page overlay in pixels, used for arrows and labels that are not tied to a data axis
add_axes(18, 0, 0, W, H, dict(hidden, range=[0, W]), dict(hidden, range=[H, 0]))
arrow([500, 447], [224, 224], MYOB_COLOR, "x18", "y18")
arrow([540, 503], [224, 224], MUSC_COLOR, "x18", "y18")
arrow([540, 578], [224, 224], MUSC_COLOR, "x18", "y18")
arrow([584, 629], [224, 224], MUSC_COLOR, "x18", "y18")
arrow([632, 663], [224, 224], MYOB_COLOR, "x18", "y18")
arrow([666, 712], [224, 224], REG_COLOR, "x18", "y18")
arrow([17, 17], [622, 413], "#111", "x18", "y18", width=1.2, size=7)

for letter, x, y in [("A", 0, 9), ("B", 189, 9), ("C", 0, 185), ("D", 388, 189), ("E", 0, 403), ("F", 440, 581)]:
    text(x, y, letter, size=16, anchor="left")

layout["bargap"] = 0.18
layout["bargroupgap"] = 0.125
fig.update_layout(**layout)
# the default page keeps the browser's 8px body margin, which would push the figure off the window
fig.write_html("out.html", config={"displayModeBar": False}, post_script="document.body.style.margin = '0';")
